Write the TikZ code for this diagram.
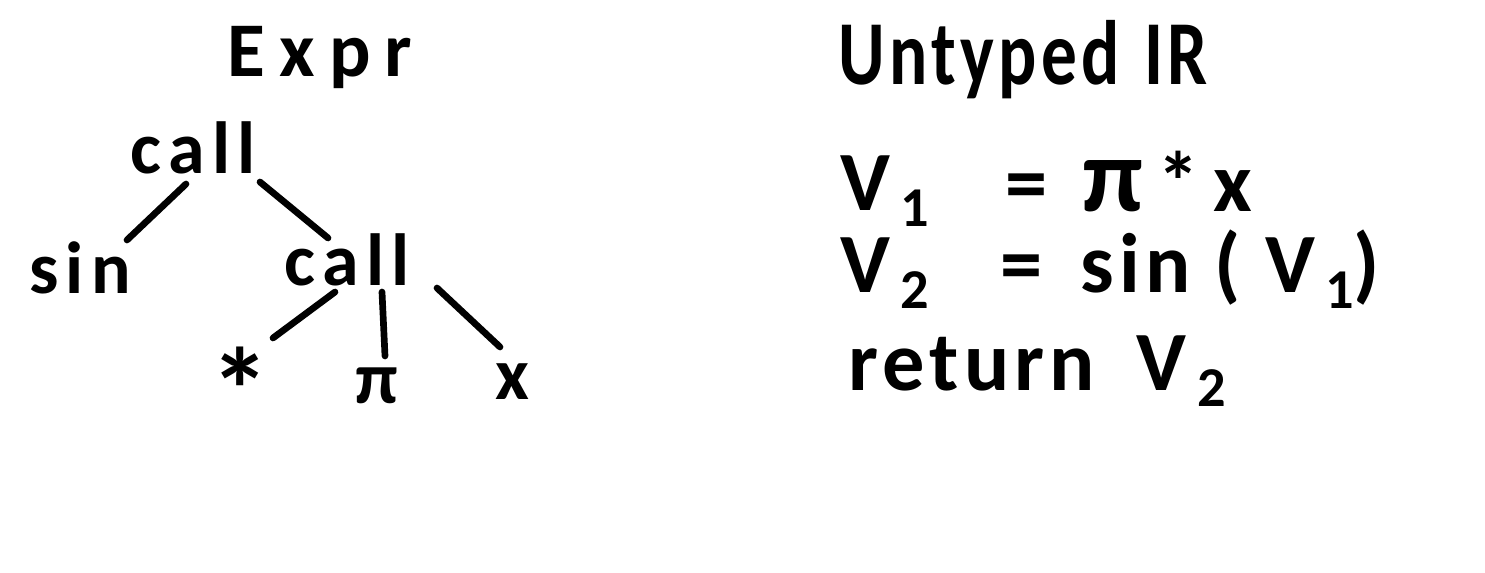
\documentclass[tikz,border=0pt]{standalone}
\usepackage{fontspec}
\usetikzlibrary{calc}
\setmainfont{Carlito}
\newfontfamily\treefont[LetterSpace=10]{Carlito}
\newfontfamily\titlefont[LetterSpace=18]{Carlito}
\newfontfamily\irfont[LetterSpace=6]{Carlito}
\newcommand{\sub}[1]{\kern0.12em\raisebox{-0.2em}{\fontsize{16}{16}\selectfont #1}}
\tikzset{
  lbl/.style={inner sep=0pt, font=\treefont\bfseries\fontsize{21}{24}\selectfont},
  irl/.style={inner sep=0pt, anchor=base west, font=\irfont\bfseries\fontsize{24}{28}\selectfont},
  edge/.style={line width=1.9pt, line cap=round},
}
\begin{document}
\begin{tikzpicture}[x=0.01cm,y=-0.01cm]
\useasboundingbox (0,0) rectangle (1485,573);
% tree
\node[lbl, font=\titlefont\bfseries\fontsize{22}{26}\selectfont] (expr) at (320,58) {Expr};
\node[lbl] (call1) at (193,148) {call};
\node[lbl] (sin) at (80,268) {sin};
\node[lbl] (call2) at (347,260) {call};
\node[lbl, font=\bfseries\fontsize{34}{34}\selectfont] (star) at (240,390) {*};
\node[lbl] (pi) at (377,386) {π};
\node[lbl] (x) at (512,382) {x};
\draw[edge] ($(call1)+(-7,36)$) -- ($(sin)+(47,-28)$);
\draw[edge] ($(call1)+(67,34)$) -- ($(call2)+(-19,-22)$);
\draw[edge] ($(call2)+(-12,32)$) -- ($(star)+(33,-52)$);
\draw[edge] ($(call2)+(35,32)$) -- ($(pi)+(8,-30)$);
\draw[edge] ($(call2)+(90,28)$) -- ($(x)+(-12,-35)$);
% IR
\node[irl, font=\irfont\bfseries\fontsize{26}{30}\selectfont] (title) at (838,85) {\scalebox{0.78}[1]{Untyped\hspace{0.35em}IR}};
\node[irl] (v1) at (840,210) {V\sub{1}};
\node[irl] (eq1) at (1005,212) {=};
\node[irl] (rhs1) at (1082,212) {{\fontsize{30}{30}\selectfont π}\,*\,x};
\node[irl] (v2) at (840,292) {V\sub{2}};
\node[irl] (eq2) at (1000,292) {=};
\node[irl] (rhs2) at (1080,292) {sin ( V\sub{1})};
\node[irl] (ret) at (848,390) {return\hspace{0.5em}V\sub{2}};
\end{tikzpicture}
\end{document}
